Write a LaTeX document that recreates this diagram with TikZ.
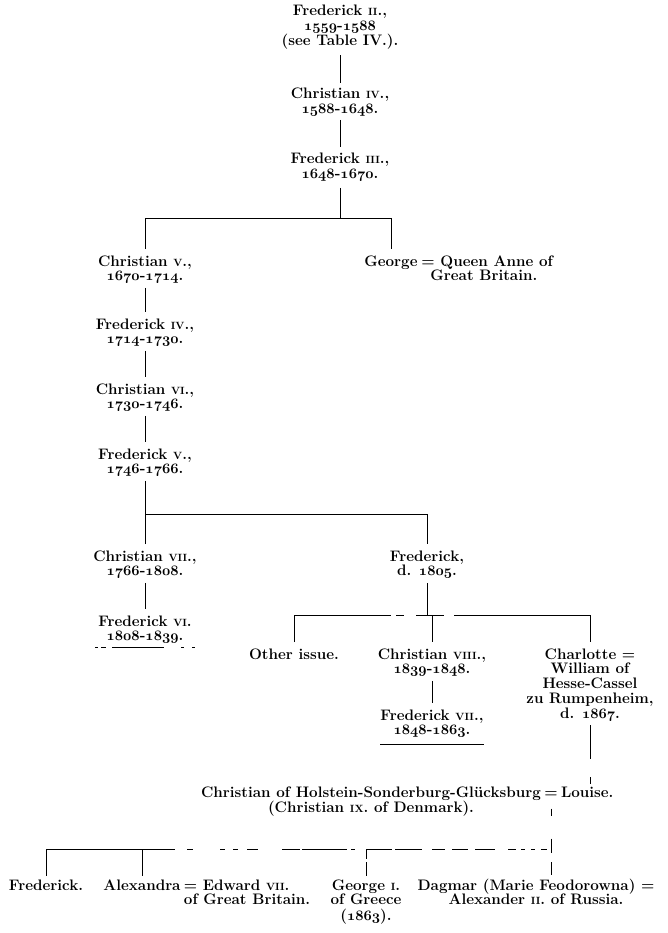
\documentclass[tikz,border=0pt]{standalone}
\usepackage{array}
\makeatletter
\newcommand\os[1]{{\fontsize{14.5}{14}\usefont{OML}{cmm}{b}{it}\mathgroup\symletters #1}}
\makeatother
\newcommand\rn[1]{{\fontsize{10.5}{10}\selectfont #1}}
\newcommand\blk[1]{\begin{tabular}[t]{@{}c@{}}#1\end{tabular}}
\newcommand\blkl[1]{\begin{tabular}[t]{@{}l@{}}#1\end{tabular}}
\tikzset{
  person/.style={anchor=base, inner sep=0pt, font=\bfseries\fontsize{15.2}{14.3}\selectfont},
  link/.style={line width=0.85pt},
  gap/.style={shorten <=3pt, shorten >=6pt},
}
\begin{document}
\begin{tikzpicture}[x=1pt,y=-1pt]
\useasboundingbox (0,0) rectangle (668,933);
% main line
\node[person] (f2) at (340,16) {\blk{Frederick \rn{II}.,\\\os{1559}-\os{1588}\\(see Table IV.).}};
\node[person] (c4) at (340,99) {\blk{Christian \rn{IV}.,\\\os{1588}-\os{1648}.}};
\node[person] (f3) at (340,164) {\blk{Frederick \rn{III}.,\\\os{1648}-\os{1670}.}};
\node[person] (c5) at (145,266) {\blk{Christian \rn{V}.,\\\os{1670}-\os{1714}.}};
\node[person] (george) at (391,266) {George};
\node[person, anchor=base west] (anne) at ([xshift=3.5pt]george.base east) {\blkl{= Queen Anne of\\\hspace{9pt}Great Britain.}};
\node[person] (f4) at (145,329) {\blk{Frederick \rn{IV}.,\\\os{1714}-\os{1730}.}};
\node[person] (c6) at (145,394) {\blk{Christian \rn{VI}.,\\\os{1730}-\os{1746}.}};
\node[person] (f5) at (145,459) {\blk{Frederick \rn{V}.,\\\os{1746}-\os{1766}.}};
\node[person] (c7) at (145,561) {\blk{Christian \rn{VII}.,\\\os{1766}-\os{1808}.}};
\node[person] (fd) at (427,561) {\blk{Frederick,\\d. \os{1805}.}};
\node[person] (f6) at (145,626) {\blk{Frederick \rn{VI}.\\\os{1808}-\os{1839}.}};
\node[person] (other) at (294,659) {Other issue.};
\node[person] (c8) at (432,659) {\blk{Christian \rn{VIII}.,\\\os{1839}-\os{1848}.}};
\node[person] (charlotte) at (590,659) {\blk{Charlotte =\\William of\\Hesse-Cassel\\zu Rumpenheim,\\d. \os{1867}.}};
\node[person] (f7) at (432,720) {\blk{Frederick \rn{VII}.,\\\os{1848}-\os{1863}.}};
\node[person] (c9) at (371,797) {\blk{Christian of Holstein-Sonderburg-Glücksburg\\(Christian \rn{IX}. of Denmark).}};
\node[person, anchor=base west] (eq9) at ([xshift=3pt]c9.base east) {=\strut};
\node[person, anchor=base west] (louise) at ([xshift=3pt]eq9.base east) {Louise.};
\node[person] (fr) at (46,890) {Frederick.};
\node[person] (alex) at (142,890) {Alexandra};
\node[person, anchor=base west] (edw) at ([xshift=3pt]alex.base east) {\blkl{= Edward \rn{VII}.\\of Great Britain.}};
\node[person] (geo) at (366,890) {\blk{George \rn{I}.\\of Greece\\(\os{1863}).}};
\node[person] (dag) at (536,890) {\blk{Dagmar (Marie Feodorowna) =\\Alexander \rn{II}. of Russia.}};
% junctions
\coordinate (j1) at (340,218);
\coordinate (j2) at (145,514);
\coordinate (j3) at (427,615);
\coordinate (j4) at (0,849);
% connectors
\draw[link, shorten <=5pt, shorten >=5pt] (f2) -- (c4);
\draw[link, shorten <=2pt, shorten >=6pt] (c4) -- (f3);
\draw[link, shorten <=5pt] (f3) -- (j1);
\draw[link, shorten <=6pt, shorten >=6pt] (c5) -- (c5 |- j1) -- (george |- j1) -- (george);
\draw[link, gap] (c5) -- (f4);
\draw[link, gap] (f4) -- (c6);
\draw[link, gap] (c6) -- (f5);
\draw[link, shorten <=3pt] (f5) -- (j2);
\draw[link, shorten <=6pt, shorten >=6pt] (c7) -- (c7 |- j2) -- (fd |- j2) -- (fd);
\draw[link, gap] (c7) -- (f6);
\draw[link, dash pattern=on 3pt off 3pt on 5pt off 6pt on 52pt off 17pt on 3pt off 8pt on 3pt]
  ([xshift=-3pt,yshift=-3pt]f6.south west) -- ([xshift=6pt,yshift=-3pt]f6.south east);
\draw[link, shorten <=3pt] (fd) -- (j3);
\draw[link, shorten <=6pt] (other) -- (other |- j3);
\draw[link, dash pattern=on 97pt off 5pt on 8pt off 12pt on 28pt off 10pt on 200pt off 1pt]
  (other |- j3) -- (charlotte |- j3);
\draw[link, shorten >=6pt] (c8 |- j3) -- (c8);
\draw[link, shorten >=6pt] (charlotte |- j3) -- (charlotte);
\draw[link, gap] (c8) -- (f7);
\draw[link] ([yshift=-6pt]f7.south west) -- ([yshift=-6pt]f7.south east);
\draw[link, shorten <=2pt, dash pattern=on 34pt off 18pt on 7pt off 40pt] (charlotte) -- (charlotte |- louise.north);
\draw[link, shorten <=7pt, dash pattern=on 7pt off 23pt on 20pt] (eq9) -- (eq9 |- j4);
\draw[link, dash pattern=on 129pt off 12pt on 6pt off 27pt on 5pt off 8pt on 5pt off 9pt on 11pt off 24pt on 18pt off 2pt on 45pt off 4pt on 4pt off 12pt on 25pt off 3pt on 27pt off 10pt on 13pt off 7pt on 16pt off 7pt on 20pt off 13pt on 8pt off 5pt on 4pt off 6pt on 4pt off 6pt on 6pt off 20pt]
  (fr |- j4) -- (eq9 |- j4);
\draw[link, shorten >=3pt] (fr |- j4) -- (fr);
\draw[link, shorten >=3pt] (alex |- j4) -- (alex);
\draw[link, shorten >=3pt, dash pattern=on 10pt off 3pt on 40pt] (geo |- j4) -- (geo);
\draw[link, dash pattern=on 4pt off 9pt on 40pt] (eq9 |- j4) -- ([yshift=3pt]eq9 |- dag.north);
\end{tikzpicture}
\end{document}
